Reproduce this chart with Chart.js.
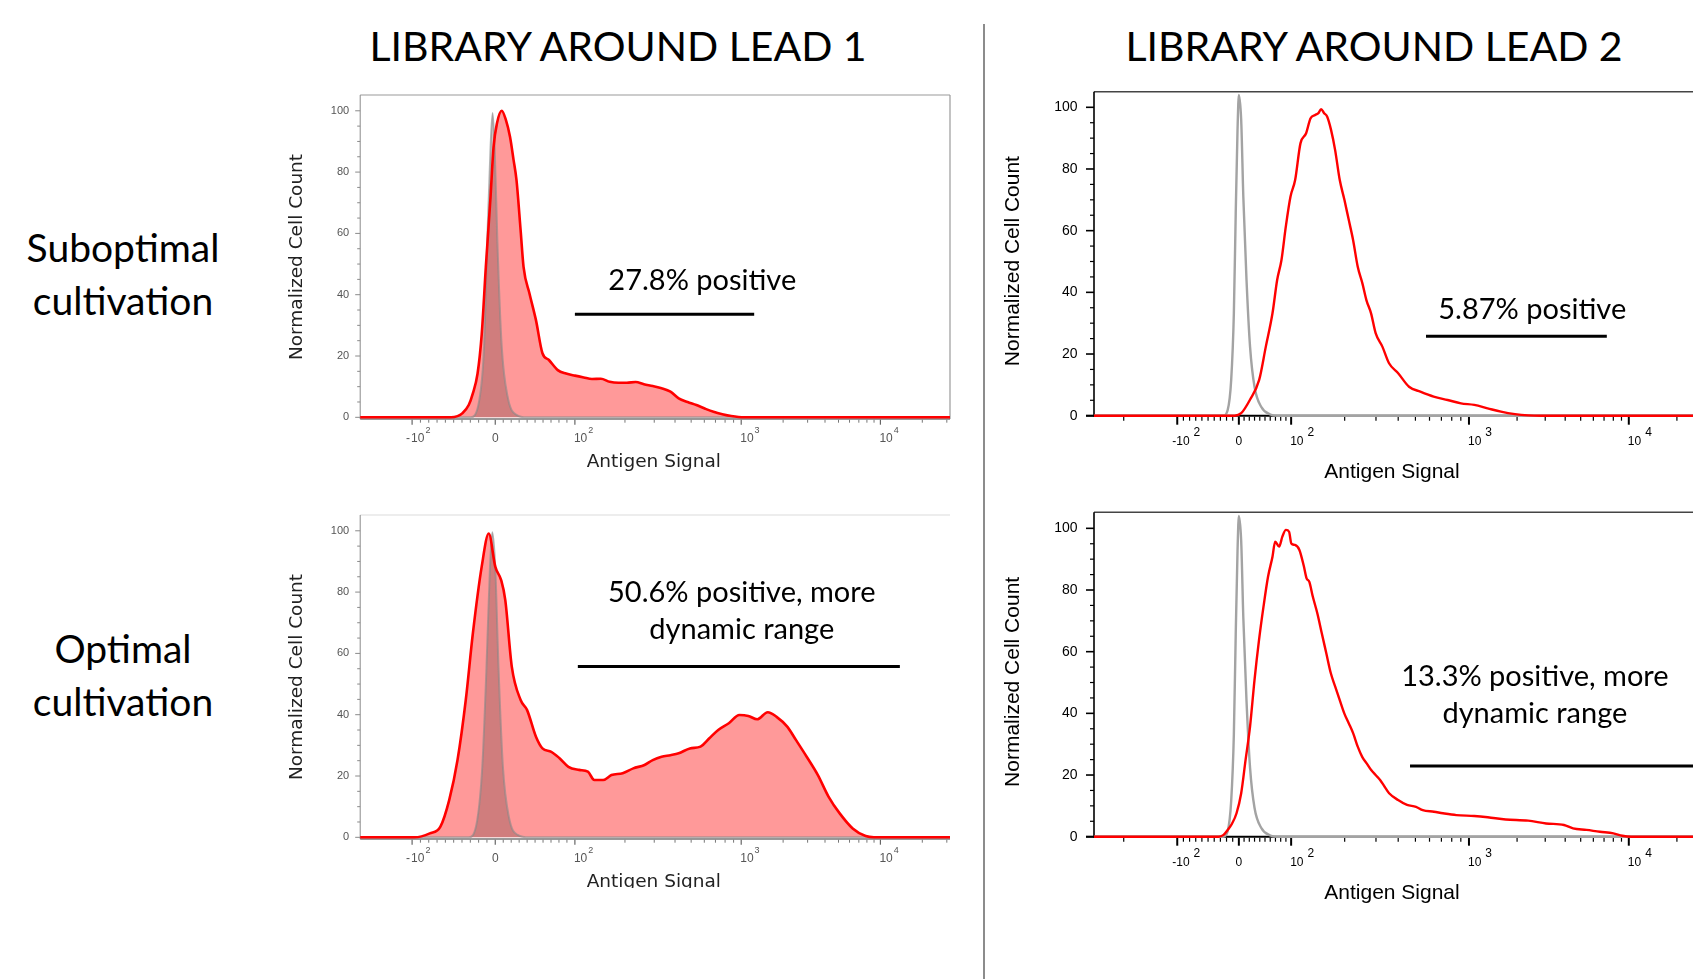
<!DOCTYPE html>
<html>
<head>
<meta charset="utf-8">
<script src="https://cdn.jsdelivr.net/npm/chart.js@4.4.1/dist/chart.umd.min.js"></script>
<style>
html, body { margin: 0; padding: 0; background: #fff; overflow: hidden; }
body { width: 1693px; height: 979px; position: relative; }
.title { position: absolute; top: 25px; font: 41px Lato, sans-serif; line-height: 41px; white-space: nowrap; transform: translateX(-50%); color: #000; }
.row { position: absolute; left: 123px; transform: translateX(-50%); font: 39px Lato, sans-serif; line-height: 53px; text-align: center; white-space: nowrap; color: #000; }
.divider { position: absolute; left: 983px; top: 24px; width: 2px; height: 955px; background: #8c8c8c; }
canvas { position: absolute; }
</style>
</head>
<body>
<div class="title" style="left:618px">LIBRARY AROUND LEAD 1</div>
<div class="title" style="left:1374px">LIBRARY AROUND LEAD 2</div>
<div class="divider"></div>
<div class="row" style="top:221px">Suboptimal<br>cultivation</div>
<div class="row" style="top:622px">Optimal<br>cultivation</div>
<canvas id="lead1Sub" width="700" height="400" style="left:270px;top:80px"></canvas>
<canvas id="lead1Opt" width="700" height="388" style="left:270px;top:500px"></canvas>
<canvas id="lead2Sub" width="780" height="410" style="left:990px;top:80px"></canvas>
<canvas id="lead2Opt" width="780" height="410" style="left:990px;top:500px"></canvas>
<script>
// x is the display channel of the biexponential axis (0..1000 across the plot)
const xTickValues = [-100, 0, 100, 1000, 10000];
const xTickBase = ['-10', '0', '10', '10', '10'];
const xTickExp = ['2', '', '2', '3', '4'];
const lead1TickCh = [88, 229, 364, 646, 882];
const lead2TickCh = [125, 217.5, 296, 563, 803];
const yTickValues = [0, 20, 40, 60, 80, 100];

// Lead 1, suboptimal cultivation
const lead1SubX = [0, 154, 165, 173, 184, 191, 199, 206, 213, 221, 226, 232, 240, 247, 254, 260, 265, 272, 277, 287, 298, 309, 320, 335, 349, 364, 379, 393, 408, 423, 438, 452, 467, 481, 496, 511, 526, 540, 555, 570, 585, 599, 614, 629, 651, 1000];
const lead1SubY = [0, 0, 0.4, 1.3, 4, 7.8, 14.3, 27, 49, 72, 88, 96, 100, 97, 91.5, 84, 77.4, 61, 49, 40.4, 31.7, 20.9, 18.7, 15.4, 14.3, 13.6, 13, 12.5, 12.6, 11.6, 11.3, 11.3, 11.5, 10.8, 10.2, 9.5, 8.4, 6.2, 5, 4, 2.8, 1.8, 1, 0.4, 0, 0];
const lead1SubCtrlX = [0, 187, 202, 210, 215, 221, 224.5, 228, 233, 240, 250, 265, 283, 1000];
const lead1SubCtrlY = [0, 0, 5.7, 23, 55, 88, 99.3, 88, 55, 23, 6.7, 0.8, 0, 0];

// Lead 1, optimal cultivation
const lead1OptX = [0, 92, 118, 136, 151, 165, 179, 191, 206, 218, 229, 239, 246, 257, 272, 283, 298, 309, 324, 338, 353, 371, 386, 397, 412, 426, 445, 463, 482, 496, 511, 526, 540, 559, 577, 592, 607, 625, 643, 658, 673, 691, 706, 724, 739, 757, 776, 794, 813, 835, 857, 871, 1000];
const lead1OptY = [0, 0, 1.3, 3.5, 12.2, 25.2, 44.8, 66.5, 88.3, 99.1, 88.3, 83.9, 77.4, 55.7, 44.8, 41.5, 32.8, 29, 27.9, 25.8, 23, 22, 21.4, 18.7, 18.7, 20.3, 20.9, 22.5, 23.6, 25.2, 26.3, 26.8, 27.4, 29, 29.6, 32.3, 35, 37.2, 39.9, 39.6, 38.5, 40.8, 39.3, 36.1, 31.7, 26.3, 20.3, 13.3, 7.8, 2.9, 0.4, 0, 0];
const lead1OptCtrlX = [0, 184, 198.5, 207, 214, 220, 224, 229, 234.6, 242, 252, 267, 287, 1000];
const lead1OptCtrlY = [0, 0, 5.7, 23, 55, 88, 99.5, 88, 55, 23, 6.7, 0.8, 0, 0];

// Lead 2, suboptimal cultivation
const lead2SubX = [0, 211, 221, 234, 248, 258, 268, 275, 281.5, 288, 295, 302, 310, 318.5, 325, 332, 337, 341, 345.5, 350, 356, 362, 369, 376, 382.5, 389, 396, 403, 409, 416, 423, 433, 443, 457, 473, 490, 510, 531, 551, 571, 591, 611, 632, 652, 672, 1000];
const lead2SubY = [0, 0, 0.8, 5.1, 11.6, 22.4, 33.2, 44, 50.5, 61.3, 71, 76.4, 88.3, 91.6, 96.4, 97.5, 98.1, 99.4, 98.1, 97, 92.6, 86.2, 76.4, 70, 63.5, 57, 48.3, 42.9, 37.5, 33.2, 26.7, 22.4, 17, 13.7, 9.4, 7.8, 6.2, 5.1, 4, 3.5, 2.4, 1.3, 0.5, 0.1, 0, 0];
const lead2SubCtrlX = [0, 194, 200.7, 206, 210, 212.8, 215.5, 217.5, 221, 224.2, 229, 234.3, 241, 251, 264.6, 275, 1000];
const lead2SubCtrlY = [0, 0, 1.8, 11.6, 33.2, 65.6, 92.6, 104, 95.9, 71, 44, 22.4, 9.4, 2.9, 0.4, 0, 0];

// Lead 2, optimal cultivation
const lead2OptX = [0, 187, 194, 200.7, 207.4, 214, 221, 227.6, 234.3, 241, 247.8, 254.5, 261.3, 268, 272, 278, 282.8, 288.2, 292.9, 296.3, 301.7, 308.4, 315.2, 319.2, 323.2, 328.6, 335.4, 342.1, 348.8, 355.6, 362.3, 369, 375.8, 382.5, 389.2, 396, 402.7, 409.4, 416.2, 422.9, 429.6, 436.4, 443.1, 456.6, 470, 483.5, 493.6, 510.4, 523.9, 544.1, 571, 591.2, 618.2, 651.9, 678.8, 705.7, 719.2, 739.4, 759.6, 779.8, 793.3, 806.7, 1000];
const lead2OptY = [0, 0, 0.5, 2.2, 4.3, 7.6, 14.1, 24.9, 35.7, 50.8, 63.8, 74.6, 84.3, 90.8, 95.7, 94.1, 97.3, 99.5, 98.9, 95.1, 94.6, 93, 87.6, 83.8, 82.7, 77.8, 72.4, 65.9, 59.5, 53, 48.6, 44.3, 40, 36.8, 33.5, 29.2, 25.9, 23.8, 21.6, 20, 18.4, 16.2, 14.1, 11.9, 10.3, 9.7, 8.6, 8.1, 7.6, 7, 6.7, 6.3, 5.6, 5.2, 4.3, 3.8, 2.7, 2.2, 1.6, 1.1, 0.3, 0, 0];
const lead2OptCtrlX = [0, 194, 200.7, 206, 210, 212.8, 215.5, 217.5, 221, 224.2, 229, 234.3, 241, 251, 264.6, 275, 1000];
const lead2OptCtrlY = [0, 0, 1.8, 11.6, 33.2, 65.6, 92.6, 104, 95.9, 71, 44, 22.4, 9.4, 2.9, 0.4, 0, 0];

const panels = [
    { id: 'lead1Sub', style: 'old', redX: lead1SubX, redY: lead1SubY, ctrlX: lead1SubCtrlX, ctrlY: lead1SubCtrlY, ticks: lead1TickCh,
      box: { l: 270, t: 80, w: 700, h: 400 }, area: { l: 360.2, t: 95, r: 950, b: 419 }, yMin: -0.55, yMax: 105.15,
      topColor: '#9a9a9a', rightBorder: true,
      note: { lines: ['27.8% positive'], x: 580, y: [44.5], from: 364, to: 668, at: 33.6 } },
    { id: 'lead1Opt', style: 'old', redX: lead1OptX, redY: lead1OptY, ctrlX: lead1OptCtrlX, ctrlY: lead1OptCtrlY, ticks: lead1TickCh,
      box: { l: 270, t: 500, w: 700, h: 388 }, area: { l: 360.2, t: 515, r: 950, b: 839 }, yMin: -0.55, yMax: 105.15,
      topColor: '#dcdcdc', rightBorder: false,
      note: { lines: ['50.6% positive, more', 'dynamic range'], x: 647, y: [79.8, 67.8], from: 369, to: 915, at: 55.7 } },
    { id: 'lead2Sub', style: 'new', redX: lead2SubX, redY: lead2SubY, ctrlX: lead2SubCtrlX, ctrlY: lead2SubCtrlY, ticks: lead2TickCh,
      box: { l: 990, t: 80, w: 780, h: 410 }, area: { l: 1094, t: 91.7, r: 1760, b: 416.5 }, yMin: -0.26, yMax: 105.06,
      topColor: '#444', rightBorder: false,
      note: { lines: ['5.87% positive'], x: 658, y: [34.3], from: 498.5, to: 770, at: 25.8 } },
    { id: 'lead2Opt', style: 'new', redX: lead2OptX, redY: lead2OptY, ctrlX: lead2OptCtrlX, ctrlY: lead2OptCtrlY, ticks: lead2TickCh,
      box: { l: 990, t: 500, w: 780, h: 410 }, area: { l: 1094, t: 512.3, r: 1760, b: 837.5 }, yMin: -0.26, yMax: 105.2,
      topColor: '#444', rightBorder: false,
      note: { lines: ['13.3% positive, more', 'dynamic range'], x: 662, y: [51.9, 40], from: 474.5, to: 1000, at: 22.9 } }
];

// value -> display channel, from the five labelled ticks
function channelOf(v, a) {
    const dec = a[3] - a[2];
    if (v >= 100) {
        const l = Math.log10(v);
        return l <= 3 ? a[2] + dec * (l - 2) : a[3] + (a[4] - a[3]) * (l - 3);
    }
    if (v <= -100) return a[0] - dec * (Math.log10(-v) - 2);
    return v >= 0 ? a[1] + (a[2] - a[1]) * v / 100 : a[1] + (a[1] - a[0]) * v / 100;
}

const minorValues = [];
for (let m = 1; m <= 9; m++) { minorValues.push(m * 10, -m * 10); }
for (let m = 2; m <= 9; m++) { minorValues.push(m * 100, -m * 100, m * 1000, m * 10000); }

function seg(ctx, x1, y1, x2, y2, color, w) {
    ctx.strokeStyle = color;
    ctx.lineWidth = w;
    ctx.beginPath();
    ctx.moveTo(x1, y1);
    ctx.lineTo(x2, y2);
    ctx.stroke();
}

function flowAxes(p) {
    const old = p.style === 'old';
    const axisColor = old ? '#8a8a8a' : '#000';
    const labelFont = old ? '12px "Liberation Sans", Arial, sans-serif' : '12px "Liberation Sans", Arial, sans-serif';
    const expFont = old ? '9px "Liberation Sans", Arial, sans-serif' : '12px "Liberation Sans", Arial, sans-serif';
    const titleFont = old ? '18.5px "DejaVu Sans", sans-serif' : '21px "Liberation Sans", Arial, sans-serif';
    return {
        id: 'flowAxes',
        beforeDatasetsDraw(chart) {
            const { ctx, chartArea: a, scales: { x, y } } = chart;
            const axisY = old ? a.bottom : y.getPixelForValue(0);
            ctx.save();
            // frame and axis lines
            seg(ctx, a.left, a.top, a.right, a.top, p.topColor, old ? 1.2 : 1.5);
            if (p.rightBorder) seg(ctx, a.right, a.top, a.right, a.bottom, p.topColor, 1.2);
            seg(ctx, a.left, a.top, a.left, axisY + (old ? 0 : 1), axisColor, old ? 1 : 1.6);
            seg(ctx, a.left - (old ? 0 : 8), axisY, a.right, axisY, old ? '#777' : '#000', old ? 1.4 : 2);

            // y ticks
            for (let v = 0; v <= 100; v += 5) {
                const py = y.getPixelForValue(v);
                const major = v % 20 === 0;
                const len = old ? (major ? 5 : 3) : (major ? 8 : 4);
                seg(ctx, a.left - len, py, a.left, py, axisColor, old ? 1 : (major ? 1.6 : 1.2));
            }
            ctx.fillStyle = old ? '#555' : '#000';
            ctx.font = old ? '11px "Liberation Sans", Arial, sans-serif' : '14px "Liberation Sans", Arial, sans-serif';
            ctx.textAlign = 'right';
            ctx.textBaseline = 'middle';
            yTickValues.forEach(v => ctx.fillText(String(v), a.left - (old ? 11 : 16.5), y.getPixelForValue(v)));

            // x ticks
            const tickTop = axisY + (old ? 0.7 : 1);
            minorValues.forEach(v => {
                const px = x.getPixelForValue(channelOf(v, p.ticks));
                if (px < a.left + 2 || px > a.right) return;
                seg(ctx, px, tickTop, px, tickTop + (old ? 3 : 4), old ? '#777' : '#000', old ? 1 : 1.2);
            });
            p.ticks.forEach(c => {
                const px = x.getPixelForValue(c);
                seg(ctx, px, tickTop, px, tickTop + (old ? 5 : 8), old ? '#666' : '#000', old ? 1.2 : 2);
            });

            // x tick labels with exponents
            const baseY = axisY + (old ? 23 : 29.5);
            const expY = axisY + (old ? 14 : 20);
            ctx.textBaseline = 'alphabetic';
            p.ticks.forEach((c, i) => {
                const px = x.getPixelForValue(c);
                const base = xTickBase[i];
                ctx.font = labelFont;
                if (base === '0') {
                    ctx.textAlign = 'center';
                    ctx.fillText('0', px, baseY);
                    return;
                }
                const start = px - 1;
                ctx.textAlign = 'left';
                ctx.fillText('10', start, baseY);
                const w = ctx.measureText('10').width;
                if (base.charAt(0) === '-') {
                    ctx.textAlign = 'right';
                    ctx.fillText('-', start - (old ? 1 : 0), baseY);
                    ctx.textAlign = 'left';
                }
                ctx.font = expFont;
                ctx.fillText(xTickExp[i], start + w + (old ? 1 : 4), expY);
            });

            // axis titles
            ctx.fillStyle = old ? '#222' : '#000';
            ctx.font = titleFont;
            ctx.textAlign = 'center';
            ctx.textBaseline = 'middle';
            ctx.fillText('Antigen Signal', a.left + (old ? 293.6 : 298), axisY + (old ? 42.7 : 57));
            ctx.translate(a.left + (old ? -63.2 : -81), (a.top + a.bottom) / 2 + (old ? 0 : 7));
            ctx.rotate(-Math.PI / 2);
            ctx.fillText('Normalized Cell Count', 0, 0);
            ctx.restore();
        },
        afterDatasetsDraw(chart) {
            const { ctx, scales: { x, y } } = chart;
            const n = p.note;
            ctx.save();
            const ly = y.getPixelForValue(n.at);
            seg(ctx, x.getPixelForValue(n.from), ly, x.getPixelForValue(n.to), ly, '#000', 3);
            ctx.fillStyle = '#000';
            ctx.font = '29px Lato, sans-serif';
            ctx.textAlign = 'center';
            ctx.textBaseline = 'middle';
            n.lines.forEach((t, i) => ctx.fillText(t, x.getPixelForValue(n.x), y.getPixelForValue(n.y[i])));
            ctx.restore();
        }
    };
}

function points(xs, ys) {
    return xs.map((v, i) => ({ x: v, y: ys[i] }));
}

function buildPanel(p) {
    const old = p.style === 'old';
    const common = { pointRadius: 0, cubicInterpolationMode: 'monotone', clip: false };
    const datasets = [
        Object.assign({ data: points(p.redX, p.redY), borderColor: '#ff0000', borderWidth: old ? 2.6 : 2.4, fill: false, order: 0 }, common),
        Object.assign({ data: points(p.ctrlX, p.ctrlY), borderColor: old ? 'rgba(135,135,135,0.6)' : '#a3a3a3',
            borderWidth: old ? 2 : 2.4, backgroundColor: 'rgba(100,60,60,0.3)', fill: old ? 'origin' : false, order: 1 }, common)
    ];
    if (old) {
        datasets.push(Object.assign({ data: points(p.redX, p.redY), borderColor: 'rgba(0,0,0,0)', borderWidth: 0,
            backgroundColor: 'rgba(255,0,0,0.4)', fill: 'origin', order: 2 }, common));
    }
    new Chart(document.getElementById(p.id), {
        type: 'line',
        data: { datasets: datasets },
        options: {
            responsive: false,
            animation: false,
            devicePixelRatio: 1,
            events: [],
            layout: {
                padding: {
                    left: p.area.l - p.box.l,
                    top: p.area.t - p.box.t,
                    right: p.box.l + p.box.w - p.area.r,
                    bottom: p.box.t + p.box.h - p.area.b
                }
            },
            scales: {
                x: { type: 'linear', min: 0, max: 1000, display: false },
                y: { type: 'linear', min: p.yMin, max: p.yMax, display: false }
            },
            plugins: { legend: { display: false }, tooltip: { enabled: false } }
        },
        plugins: [flowAxes(p)]
    });
}

document.addEventListener('DOMContentLoaded', function() {
    panels.forEach(buildPanel);
});
</script>
</body>
</html>
